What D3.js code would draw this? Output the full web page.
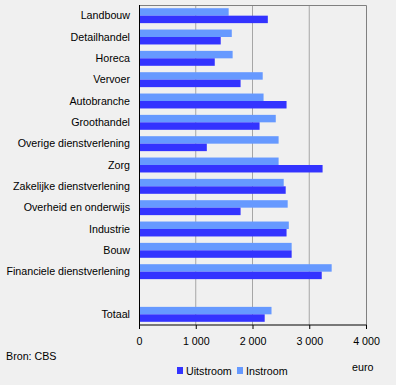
<!DOCTYPE html>
<html>
<head>
<meta charset="utf-8">
<script src="https://cdn.jsdelivr.net/npm/d3@7"></script>
<style>
  body { margin: 0; background: #f0f0f0; }
  svg text { font-family: "Liberation Sans", Arial, sans-serif; font-size: 10.7px; fill: #000; }
</style>
</head>
<body>
<div class="canvas"></div>
<script>
const width = 396, height = 385

const categories = ['Landbouw', 'Detailhandel', 'Horeca', 'Vervoer', 'Autobranche', 'Groothandel',
  'Overige dienstverlening', 'Zorg', 'Zakelijke dienstverlening', 'Overheid en onderwijs',
  'Industrie', 'Bouw', 'Financiele dienstverlening', '', 'Totaal']
const instroom = [1580, 1635, 1650, 2180, 2195, 2410, 2460, 2460, 2550, 2620, 2640, 2690, 3395, null, 2335]
const uitstroom = [2270, 1440, 1335, 1790, 2600, 2125, 1195, 3235, 2585, 1790, 2600, 2690, 3220, null, 2215]
const xTicks = [0, 1000, 2000, 3000, 4000]

const colors = { Uitstroom: '#3333ff', Instroom: '#6699ff' }

const svg = d3.select('.canvas').append('svg').attr('width', width).attr('height', height)

let [mt, mr, mb, ml] = [5, 30, 60, 139]
const graphWidth = width - ml - mr
const graphHeight = height - mt - mb

const graph = svg.append('g').attr('transform', `translate(${ml}, ${mt})`)

const x = d3.scaleLinear().domain([0, 4000]).range([0, graphWidth])
const y = d3.scaleBand().domain(categories.map((c, i) => i)).range([0, graphHeight]).paddingInner(0.3).paddingOuter(0.15)
const sub = d3.scaleBand().domain(['Instroom', 'Uitstroom']).range([0, y.bandwidth()])

// gridlines
graph.selectAll('line.grid').data(xTicks.slice(1, -1)).enter()
  .append('line')
  .attr('x1', d => x(d)).attr('x2', d => x(d))
  .attr('y1', 0).attr('y2', graphHeight)
  .attr('stroke', '#a6a6a6')

// frame top + right
graph.append('path')
  .attr('d', `M0,0.5H${x(4000) + 0.5}V${graphHeight}`)
  .attr('fill', 'none').attr('stroke', '#808080')

const rows = categories.map((c, i) => ({ i, c, Instroom: instroom[i], Uitstroom: uitstroom[i] }))
  .filter(d => d.c !== '')

rows.forEach(r => {
  ['Instroom', 'Uitstroom'].forEach(k => {
    graph.append('rect')
      .attr('x', 0)
      .attr('y', y(r.i) + sub(k))
      .attr('width', x(r[k]))
      .attr('height', sub.bandwidth())
      .attr('fill', colors[k])
  })
})

// category labels
graph.selectAll('text.cat').data(rows).enter()
  .append('text')
  .attr('x', -9)
  .attr('y', d => y(d.i) + y.bandwidth() / 2)
  .attr('dy', '0.35em')
  .attr('text-anchor', 'end')
  .text(d => d.c)

// axes
const xAxis = d3.axisBottom(x).tickValues(xTicks).tickSize(4).tickPadding(8)
  .tickFormat(d => d3.format(',')(d).replace(',', ' '))
const xAxisG = graph.append('g').attr('transform', `translate(0, ${graphHeight})`).call(xAxis)
xAxisG.select('.domain').attr('d', `M0.5,0H${x(4000) + 0.5}`).attr('stroke', '#000')
xAxisG.selectAll('.tick line').attr('stroke', '#000')
xAxisG.selectAll('text').style('font-size', '10.7px')

graph.append('line')
  .attr('x1', 0.5).attr('x2', 0.5).attr('y1', 0).attr('y2', graphHeight)
  .attr('stroke', '#000')

svg.append('text').attr('x', 6).attr('y', 360).text('Bron: CBS')
svg.append('text').attr('x', 352).attr('y', 371).text('euro')

const legend = svg.append('g').attr('transform', 'translate(177, 366)')
;['Uitstroom', 'Instroom'].forEach((k, i) => {
  const g = legend.append('g').attr('transform', `translate(${i * 60}, 0)`)
  g.append('rect').attr('width', 6).attr('height', 7).attr('y', 1).attr('fill', colors[k])
  g.append('text').attr('x', 9).attr('y', 8.5).text(k)
})
</script>
</body>
</html>
